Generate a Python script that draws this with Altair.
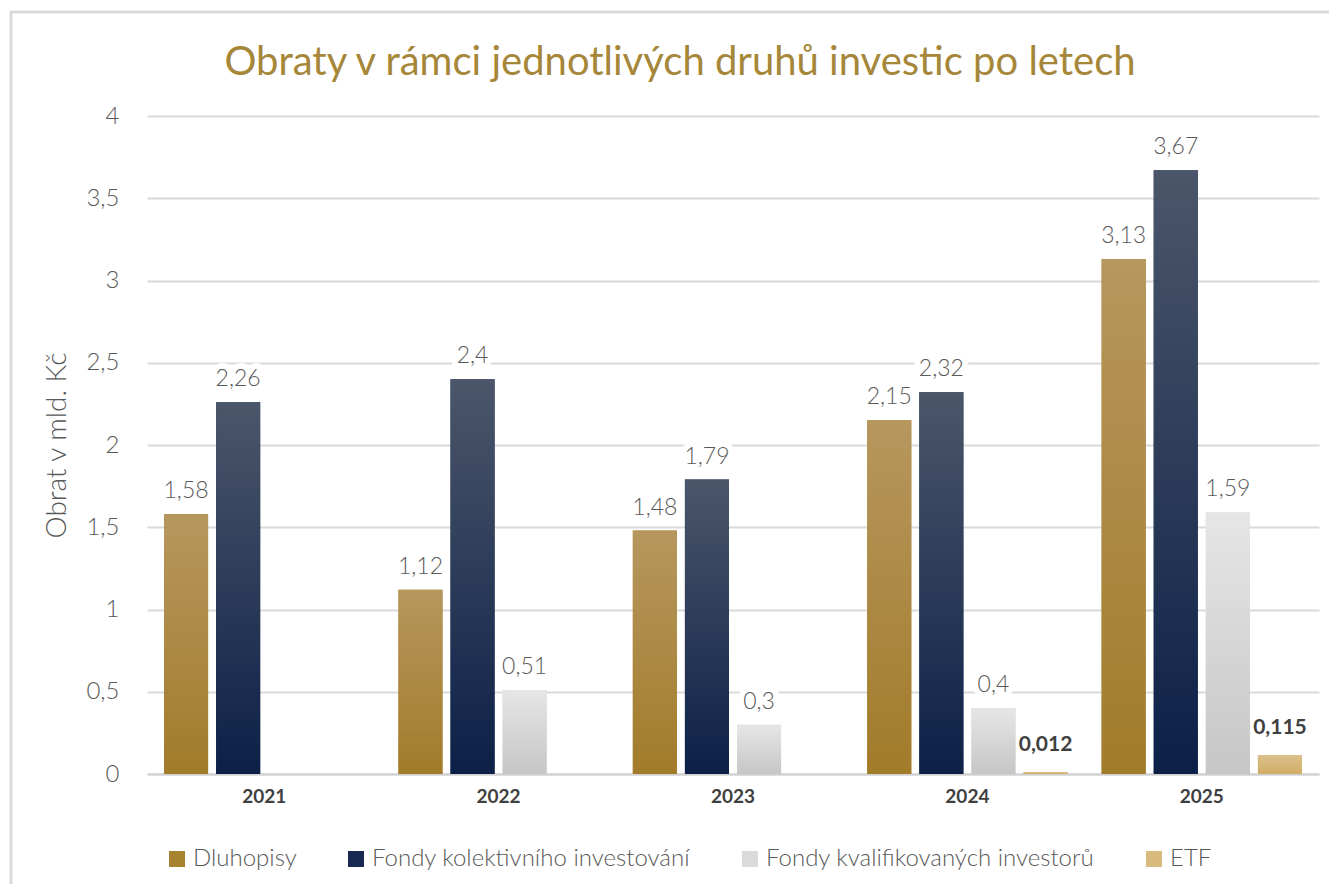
import altair as alt
import pandas as pd

title_text = "Obraty v rámci jednotlivých druhů investic po letech"
years = ["2021", "2022", "2023", "2024", "2025"]
series = ["Dluhopisy", "Fondy kolektivního investování", "Fondy kvalifikovaných investorů", "ETF"]
dluhopisy = [1.58, 1.12, 1.48, 2.15, 3.13]
fondy_ki = [2.26, 2.4, 1.79, 2.32, 3.67]
fondy_kvi = [None, 0.51, 0.3, 0.4, 1.59]
etf = [None, None, None, 0.012, 0.115]
y_ticks = [0, 0.5, 1, 1.5, 2, 2.5, 3, 3.5, 4]

legend_colors = ["#a8832f", "#172a52", "#dadada", "#d8bb7c"]
grad_colors = [("#b6975e", "#a27b2a"), ("#4b566a", "#0c2047"),
               ("#e6e6e6", "#c6c6c6"), ("#dcc08a", "#cfad66")]

rows = []
for s, vals in zip(series, [dluhopisy, fondy_ki, fondy_kvi, etf]):
    for y, v in zip(years, vals):
        if v is not None:
            rows.append({"year": y, "series": s, "value": v})
df = pd.DataFrame(rows)

FONT = "Lato"
GRAY = "#595959"

x_enc = alt.X("year:N", sort=years,
              scale=alt.Scale(paddingInner=0.111, paddingOuter=0.0555),
              axis=alt.Axis(title=None, labelAngle=0, labelFontSize=19, labelFontWeight="bold",
                            labelColor="#404040", labelPadding=13, ticks=False,
                            domainColor="#d0d0d0", domainWidth=2, labelFont=FONT))
xo_enc = alt.XOffset("series:N", sort=series,
                     scale=alt.Scale(domain=series, paddingInner=0.154, paddingOuter=0.077))
y_enc = alt.Y("value:Q", scale=alt.Scale(domain=[0, 4]),
              axis=alt.Axis(title="Obrat v mld. Kč", values=y_ticks,
                            labelExpr="replace(toString(datum.value), '.', ',')",
                            labelFontSize=24, labelColor=GRAY, labelPadding=28,
                            labelFont=FONT, labelFontWeight=300,
                            titleFontSize=28, titleColor=GRAY, titleFont=FONT,
                            titleFontWeight=300, titlePadding=14,
                            ticks=False, domain=False, gridColor="#d9d9d9", gridWidth=2))

base = alt.Chart(df)

legend_layer = base.mark_bar().encode(
    x=x_enc, xOffset=xo_enc, y=y_enc,
    color=alt.Color("series:N", sort=series,
                    scale=alt.Scale(domain=series, range=legend_colors),
                    legend=alt.Legend(title=None, orient="none", legendX=18, legendY=731,
                                      direction="horizontal", columns=4, columnPadding=47,
                                      symbolType="square", symbolSize=256, symbolStrokeWidth=0,
                                      labelFontSize=24, labelColor=GRAY, labelFont=FONT,
                                      labelFontWeight=300, labelOffset=4, labelLimit=600,
                                      symbolOpacity=1)),
)

layers = [legend_layer]
for s, (c1, c2) in zip(series, grad_colors):
    grad = alt.LinearGradient(gradient="linear",
                              stops=[alt.GradientStop(color=c1, offset=0),
                                     alt.GradientStop(color=c2, offset=1)],
                              x1=0, x2=0, y1=0, y2=1)
    layers.append(
        base.transform_filter(alt.datum.series == s)
        .mark_bar(color=grad)
        .encode(x=x_enc, xOffset=xo_enc, y=y_enc)
    )

label_calc = "replace(toString(datum.value), '.', ',')"
main_lbl = base.transform_filter(alt.datum.series != "ETF").transform_calculate(label=label_calc)
text_halo = main_lbl.mark_text(dy=-16, baseline="alphabetic", fontSize=23, color="white",
                               stroke="white", strokeWidth=12, strokeJoin="round",
                               strokeCap="round", font=FONT, fontWeight=300
                               ).encode(x=x_enc, xOffset=xo_enc, y=y_enc, text="label:N")
text_main = main_lbl.mark_text(dy=-16, baseline="alphabetic", fontSize=23, color=GRAY, font=FONT,
                               fontWeight=300).encode(x=x_enc, xOffset=xo_enc, y=y_enc, text="label:N")
text_etf = base.transform_filter(alt.datum.series == "ETF").transform_calculate(
    label=label_calc
).mark_text(dy=-21, baseline="alphabetic", fontSize=21, color="#404040", font=FONT,
            fontWeight="bold").encode(x=x_enc, xOffset=xo_enc, y=y_enc, text="label:N")

title_layer = alt.Chart(pd.DataFrame({"t": [title_text]})).mark_text(
    fontSize=40, color="#a6873a", font=FONT, fontWeight="normal",
    align="center", baseline="alphabetic"
).encode(x=alt.value(533), y=alt.value(-41), text="t:N")

frame = alt.Chart(pd.DataFrame({"a": [0]})).mark_rect(
    fillOpacity=0, stroke="#d9d9d9", strokeWidth=3
).encode(x=alt.value(-136), x2=alt.value(1250), y=alt.value(-104), y2=alt.value(820))

chart = alt.layer(frame, *layers, text_halo, text_main, text_etf, title_layer).properties(
    width=1172, height=658,
    autosize=alt.AutoSizeParams(type="none"),
    padding={"left": 139, "top": 108, "right": 10, "bottom": 110},
).configure_view(stroke=None)

chart.save("out.html", embed_options={"renderer": "svg", "actions": False})
